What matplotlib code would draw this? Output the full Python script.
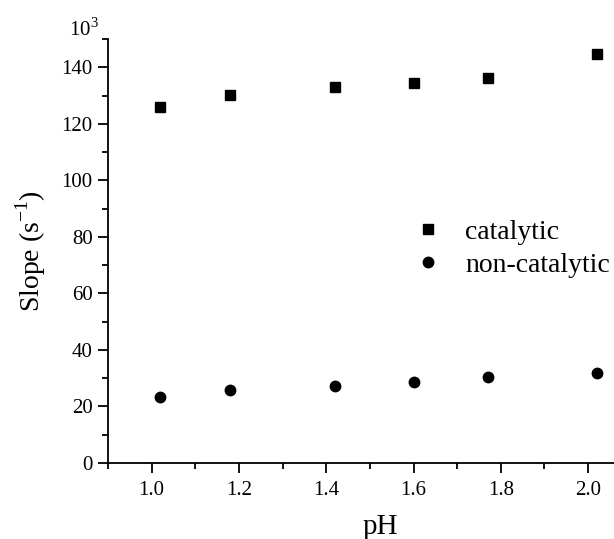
import numpy as np
import matplotlib.pyplot as plt
from matplotlib.ticker import MultipleLocator

plt.rcParams['font.family'] = ['Liberation Serif', 'DejaVu Serif']
plt.rcParams['mathtext.fontset'] = 'custom'
plt.rcParams['mathtext.rm'] = 'Liberation Serif'

ph = [1.02, 1.18, 1.42, 1.60, 1.77, 2.02]
catalytic = [126.1, 130.2, 133.0, 134.5, 136.1, 144.8]
non_catalytic = [23.2, 26.0, 27.4, 28.8, 30.4, 31.7]

fig = plt.figure(figsize=(6.14, 5.39), dpi=100)
ax = fig.add_axes([0.1759, 0.141, 0.853, 0.7866])

ax.plot(ph, catalytic, 's', color='black', ms=6.5, label='catalytic')
ax.plot(ph, non_catalytic, 'o', color='black', ms=7.5, label='non-catalytic')

ax.set_xlim(0.9, 2.1)
ax.set_ylim(0, 150)
ax.xaxis.set_minor_locator(MultipleLocator(0.1))
ax.yaxis.set_major_locator(MultipleLocator(20))
ax.yaxis.set_minor_locator(MultipleLocator(10))
ax.set_xticks(np.arange(1.0, 2.01, 0.2))
ax.set_xticklabels(['1.0', '1.2', '1.4', '1.6', '1.8', '2.0'])

for s in ['top', 'right']:
    ax.spines[s].set_visible(False)
for s in ['left', 'bottom']:
    ax.spines[s].set_linewidth(1.3)

ax.tick_params(which='major', direction='out', length=7, width=1.3, labelsize=15, pad=4)
ax.tick_params(which='minor', direction='out', length=4, width=1.3)
ax.tick_params(axis='x', which='major', pad=6)

ax.set_xlabel('pH', fontsize=21)
ax.xaxis.set_label_coords(0.519, -0.12)
ax.set_ylabel('Slope (s$^{-1}$)', fontsize=20, labelpad=10)

fig.text(0.113, 0.925, r'10$^{3}$', fontsize=15, ha='left', va='bottom')

ax.legend(loc='upper left', bbox_to_anchor=(0.557, 0.6), frameon=False,
          fontsize=20, handletextpad=0.75, labelspacing=0.25, borderaxespad=0,
          handlelength=1.2)

fig.savefig('out.png', dpi=100)
